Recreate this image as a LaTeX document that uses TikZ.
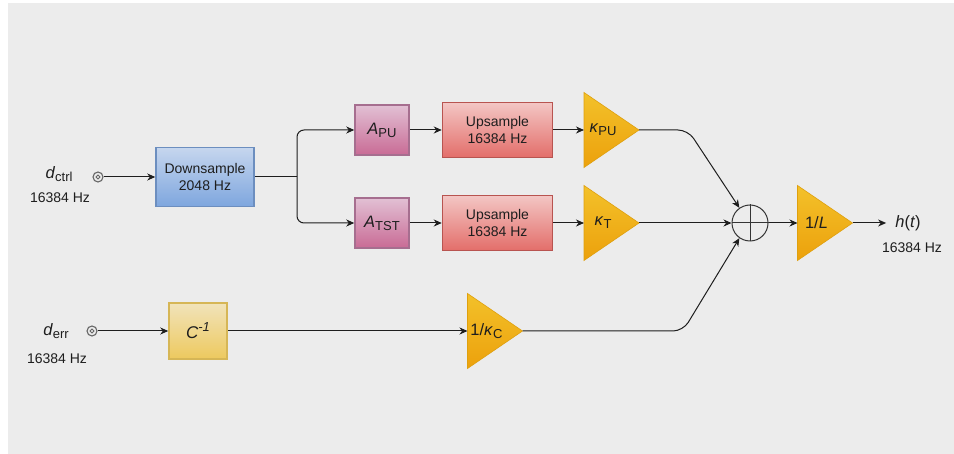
\documentclass[tikz,border=0pt]{standalone}
\usepackage{fontspec}
\setmainfont{Liberation Sans}
\usetikzlibrary{arrows.meta}
\definecolor{bg}{HTML}{ECECEC}
\definecolor{txt}{HTML}{1E1E1E}
\definecolor{linec}{HTML}{1E1E1E}
\definecolor{portc}{HTML}{666666}
\definecolor{bluet}{HTML}{C6D6EE}
\definecolor{blueb}{HTML}{7EA6DE}
\definecolor{bluebd}{HTML}{6C8EBF}
\definecolor{pinkt}{HTML}{E2C0D4}
\definecolor{pinkb}{HTML}{C96B95}
\definecolor{pinkbd}{HTML}{A66E8F}
\definecolor{redt}{HTML}{F3C6C4}
\definecolor{redb}{HTML}{E36E6A}
\definecolor{redbd}{HTML}{B85450}
\definecolor{yelt}{HTML}{F1E3BA}
\definecolor{yelb}{HTML}{EDC95E}
\definecolor{yelbd}{HTML}{D6B656}
\definecolor{orat}{HTML}{F3C12A}
\definecolor{orab}{HTML}{ECA10C}
\definecolor{orabd}{HTML}{DFA00E}
\newcommand\sbs[1]{\raisebox{-0.35ex}{\fontsize{13}{13}\selectfont #1}}
\newcommand\sps[1]{\raisebox{0.8ex}{\fontsize{13}{13}\selectfont #1}}
\newcommand\gainblock[4]{%
  \path[shade, top color=orat, bottom color=orab, draw=orabd, line width=0.6pt]
    (#2-27.5,#3-37.5) -- (#2+27.5,#3) -- (#2-27.5,#3+37.5) -- cycle;
  \node[lbl] (#1) at (#2-8.5,#3) {#4};
  \coordinate (#1-in) at (#2-27.5,#3);
  \coordinate (#1-out) at (#2+27.5,#3);}
\begin{document}
\begin{tikzpicture}[x=1pt,y=-1pt,
  lbl/.style={font=\fontsize{16.5}{18}\selectfont, text=txt, inner sep=1pt},
  small/.style={font=\fontsize{14}{17}\selectfont, text=txt, align=center, inner sep=1pt},
  box/.style={rectangle, line width=1.5pt, align=center, font=\fontsize{14}{17}\selectfont, text=txt, inner sep=0pt},
  bluebox/.style={box, draw=bluebd, top color=bluet, bottom color=blueb},
  pinkbox/.style={box, draw=pinkbd, top color=pinkt, bottom color=pinkb, minimum width=54pt, minimum height=50pt, font=\fontsize{16.5}{18}\selectfont},
  redbox/.style={box, draw=redbd, top color=redt, bottom color=redb, minimum width=110pt, minimum height=55pt},
  yelbox/.style={box, draw=yelbd, top color=yelt, bottom color=yelb, minimum width=58pt, minimum height=56pt, font=\fontsize{17}{18}\selectfont},
  port/.style={circle, draw=portc, line width=1.1pt, fill=bg, minimum size=10pt, inner sep=0pt,
    path picture={\draw[portc, line width=0.9pt] (path picture bounding box.center) circle (1.9pt);}},
  wire/.style={line width=1pt, draw=linec},
  arr/.style={wire, -{Stealth[length=8pt,width=7pt,inset=2.5pt]}},
  sumnode/.style={circle, draw=linec!90, line width=1pt, minimum size=36pt, inner sep=0pt}
]
\useasboundingbox (0,0) rectangle (954,454);
\fill[white] (0,0) rectangle (954,454);
\fill[bg] (8,3) rectangle (954,454);

% inputs
\node[port] (pc) at (98,177) {};
\node[lbl] (dctrl) at (59,174) {\textit{d}\sbs{ctrl}};
\node[small] (f1) at (60,198) {16384 Hz};
\node[port] (pe) at (92,331) {};
\node[lbl] (derr) at (56,331) {\textit{d}\sbs{err}};
\node[small] (f2) at (57,359) {16384 Hz};

% blocks
\node[bluebox, minimum width=98pt, minimum height=59pt] (ds) at (205,177) {Downsample\\2048 Hz};
\node[pinkbox] (apu) at (382,130) {\textit{A}\sbs{PU}};
\node[pinkbox] (atst) at (382,223) {\textit{A}\sbs{TST}};
\node[redbox] (up1) at (497.5,130) {Upsample\\16384 Hz};
\node[redbox] (up2) at (497.5,223) {Upsample\\16384 Hz};
\node[yelbox] (cinv) at (198,331) {\textit{C}\sps{\textit{-1}}};

\gainblock{kpu}{611.5}{130}{\textit{κ}\sbs{PU}}
\gainblock{kt}{611.5}{223}{\textit{κ}\sbs{T}}
\gainblock{kc}{495}{331}{1/\textit{κ}\sbs{C}}
\gainblock{gl}{825}{223}{1/\textit{L}}

\node[sumnode] (sum) at (750,223) {};
\draw[linec!90, line width=1pt] (sum.north) -- (sum.south) (sum.west) -- (sum.east);

\node[lbl] (ht) at (908,223) {\textit{h}(\textit{t})};
\node[small] (f3) at (912,248) {16384 Hz};

% connectors
\coordinate (sp) at (297,177);
\coordinate (bend1) at (688,130);
\coordinate (bend2) at (683,331);
\draw[arr] (pc) -- (ds.west);
\draw[wire] (ds.east) -- (sp);
\draw[arr, rounded corners=7pt] (sp) |- (apu.west);
\draw[arr, rounded corners=7pt] (sp) |- (atst.west);
\draw[arr] (apu.east) -- (up1.west);
\draw[arr] (atst.east) -- (up2.west);
\draw[arr] (up1.east) -- (kpu-in);
\draw[arr] (up2.east) -- (kt-in);
\draw[arr, rounded corners=10pt] (kpu-out) -- (bend1) -- (sum.125);
\draw[arr] (kt-out) -- (sum.west);
\draw[arr] (pe) -- (cinv.west);
\draw[arr] (cinv.east) -- (kc-in);
\draw[arr, rounded corners=10pt] (kc-out) -- (bend2) -- (sum.235);
\draw[arr] (sum.east) -- (gl-in);
\draw[arr, shorten >=8pt] (gl-out) -- (ht.west);
\end{tikzpicture}
\end{document}
